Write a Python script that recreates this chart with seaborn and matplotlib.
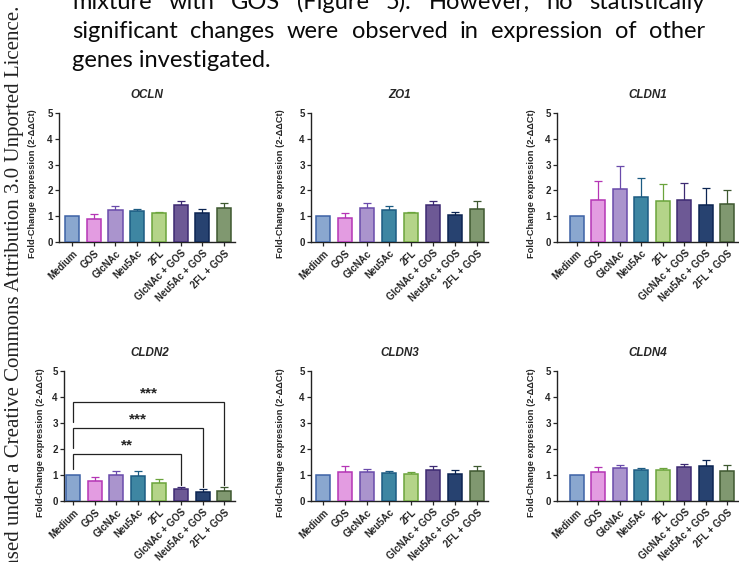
"""Fold-change expression of tight junction genes, six bar panels.

Rebuilt as a page crop: a bit of body text above, licence note down the left edge.
"""
import numpy as np
import pandas as pd
import seaborn as sns
import matplotlib.pyplot as plt

W, H = 739, 562

groups = ['Medium', 'GOS', 'GlcNAc', 'Neu5Ac', '2FL',
          'GlcNAc + GOS', 'Neu5Ac + GOS', '2FL + GOS']
fills = ['#7ea5da', '#ef90ec', '#a88ad7', '#2d8db3',
         '#b6e17c', '#6a4f9f', '#1b3f7c', '#7f9f69']
edges = ['#3d62a6', '#b535b5', '#6a4bab', '#1c5b82',
         '#6ba43c', '#3d2a72', '#0c2552', '#3e5830']

# bar heights and the top of the (upper only) error bar
ocln_mean = [1.00, 0.90, 1.25, 1.20, 1.14, 1.44, 1.14, 1.31]
ocln_top = [1.00, 1.08, 1.39, 1.26, 1.18, 1.57, 1.29, 1.53]
zo1_mean = [1.00, 0.92, 1.30, 1.25, 1.12, 1.45, 1.03, 1.28]
zo1_top = [1.00, 1.12, 1.52, 1.38, 1.18, 1.58, 1.18, 1.60]
cldn1_mean = [1.00, 1.62, 2.06, 1.75, 1.60, 1.62, 1.43, 1.46]
cldn1_top = [1.00, 2.35, 2.93, 2.47, 2.25, 2.30, 2.08, 2.03]
cldn2_mean = [1.00, 0.76, 1.00, 0.98, 0.71, 0.46, 0.35, 0.40]
cldn2_top = [1.00, 0.92, 1.17, 1.15, 0.84, 0.54, 0.46, 0.53]
cldn3_mean = [1.00, 1.12, 1.10, 1.07, 1.03, 1.20, 1.05, 1.15]
cldn3_top = [1.00, 1.33, 1.22, 1.15, 1.10, 1.33, 1.18, 1.33]
cldn4_mean = [1.00, 1.10, 1.28, 1.20, 1.19, 1.32, 1.35, 1.15]
cldn4_top = [1.00, 1.30, 1.38, 1.27, 1.27, 1.43, 1.56, 1.40]

# CLDN2 significance vs Medium
cldn2_pairs = [(0, 5), (0, 6), (0, 7)]
cldn2_stars = ['**', '***', '***']

ylabel = 'Fold-Change expression (2-ΔΔCt)'

panels = [
    ('OCLN', ocln_mean, ocln_top),
    ('ZO1', zo1_mean, zo1_top),
    ('CLDN1', cldn1_mean, cldn1_top),
    ('CLDN2', cldn2_mean, cldn2_top),
    ('CLDN3', cldn3_mean, cldn3_top),
    ('CLDN4', cldn4_mean, cldn4_top),
]
# pixel frame of each panel: left, right, y of 5, y of 0, left x limit, label offset
frames = [
    (59, 235, 113, 242, -0.60, -22),
    (311, 488, 113, 242, -0.55, -26),
    (557, 738, 113, 242, -0.93, -21),
    (64, 235, 371, 501, -0.42, -19),
    (311, 488, 371, 501, -0.55, -26),
    (557, 738, 371, 501, -0.93, -21),
]

sns.set_style('ticks')
plt.rcParams['font.family'] = ['Liberation Sans', 'DejaVu Sans']
plt.rcParams['axes.edgecolor'] = '#222222'

fig = plt.figure(figsize=(W / 100, H / 100), dpi=100)

for (name, mean, top), (l, r, y5, y0, xmin, ldx) in zip(panels, frames):
    ax = fig.add_axes([l / W, 1 - y0 / H, (r - l) / W, (y0 - y5) / H])
    df = pd.DataFrame({'group': groups, 'value': mean})
    sns.barplot(data=df, x='group', y='value', hue='group', palette=fills,
                order=groups, hue_order=groups, legend=False, width=0.65,
                linewidth=1.1, errorbar=None, ax=ax, zorder=3)
    for patch, ec in zip(ax.patches, edges):
        patch.set_edgecolor(ec)
    for i, (m, t) in enumerate(zip(mean, top)):
        if t > m:
            ax.errorbar(i, m, yerr=[[0], [t - m]], fmt='none', ecolor=edges[i],
                        elinewidth=0.9, capsize=2.6, capthick=0.9, zorder=2)

    ax.set_xlim(xmin, 7.5)
    ax.set_ylim(0, 5)
    ax.set_yticks(range(6))
    ax.set_xlabel('')
    ax.set_ylabel(ylabel, fontsize=6.7, fontweight='bold')
    ax.yaxis.set_label_coords(ldx / (r - l), 0.45)
    ax.set_title(name, fontsize=8.4, fontweight='bold', style='italic', pad=11)
    ax.tick_params(axis='both', length=3, width=0.9, pad=1.5, labelsize=7)
    for lab in ax.get_yticklabels():
        lab.set_fontweight('bold')
    ax.set_xticks(range(len(groups)))
    ax.set_xticklabels(groups, rotation=45, ha='right', rotation_mode='anchor',
                       fontweight='bold', fontsize=6.9)
    sns.despine(ax=ax)
    for s in ax.spines.values():
        s.set_linewidth(1.0)

    if name == 'CLDN2':
        bar_y = [1.8, 2.8, 3.8]
        left_low = [1.25, 2.05, 3.05]
        right_low = [0.62, 0.55, 0.62]
        for (a, b), stars, yb, ll, rl in zip(cldn2_pairs, cldn2_stars, bar_y,
                                             left_low, right_low):
            ax.plot([a, a, b, b], [ll, yb, yb, rl], color='#222222', lw=0.9,
                    solid_joinstyle='miter', zorder=4)
            ax.text((a + b) / 2, yb + 0.05, stars, ha='center', va='bottom',
                    fontsize=11, fontweight='bold')

# body text above the figure
renderer = fig.canvas.get_renderer()
body_kw = dict(fontsize=17, family=['Lato', 'DejaVu Sans'], color='#0a0a0a',
               va='baseline')


def justify(line, y_px, x0=72, x1=705):
    words = line.split()
    texts = [fig.text(0, 1 - y_px / H, w, **body_kw) for w in words]
    widths = [t.get_window_extent(renderer).width for t in texts]
    gap = (x1 - x0 - sum(widths)) / (len(words) - 1)
    x = x0
    for t, w in zip(texts, widths):
        t.set_x(x / W)
        x += w + gap


justify('mixture with GOS (Figure 5). However, no statistically', 9)
justify('significant changes were observed in expression of other', 38)
fig.text(72 / W, 1 - 67 / H, 'genes investigated.', **body_kw)

fig.text(15 / W, 1 - 6 / H,
         'This article is licensed under a Creative Commons Attribution 3.0 Unported Licence.',
         rotation=90, ha='center', va='top', fontsize=15,
         family=['Liberation Serif', 'DejaVu Serif'], color='#222222')

fig.savefig('out.png', dpi=100)
